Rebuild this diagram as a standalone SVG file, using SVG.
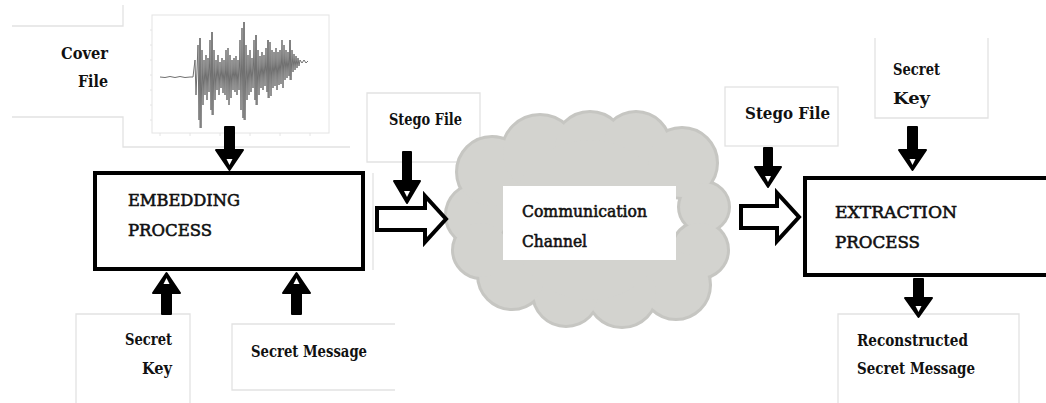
<svg xmlns="http://www.w3.org/2000/svg" width="1046" height="403" viewBox="0 0 1046 403">
<style>
.bg{fill:#ffffff}
.frame{fill:none;stroke:#e2e2e2;stroke-width:1.3}
.lb{font-family:'DejaVu Serif Condensed','DejaVu Serif',serif;font-weight:bold;font-size:17px;fill:#111}
.pr{font-family:'DejaVu Serif Condensed','DejaVu Serif',serif;font-weight:normal;font-size:17px;fill:#111;stroke:#111;stroke-width:0.55}
.box{fill:#ffffff;stroke:#000;stroke-width:4}
.solid{fill:#000;stroke:#000;stroke-width:2;stroke-linejoin:round}
.hole{fill:#ffffff}
.hollow{fill:#ffffff;stroke:#000;stroke-width:4;stroke-linejoin:miter}
.cloudEdge{fill:#c6c6c2;stroke:#c6c6c2;stroke-width:6}
.cloudFill{fill:#d3d3cf}
.wave{fill:none;stroke:#707070;stroke-width:1;stroke-linejoin:round}
.axis{fill:none;stroke:#e4e4e4;stroke-width:1}
</style>
<rect class="bg" x="0" y="0" width="1046" height="403"/>

<g id="cover-file">
  <path class="frame" d="M12,26 H123 V5 M12,117 H123 V147 H350"/>
  <text class="lb" x="61" y="59" textLength="47" lengthAdjust="spacingAndGlyphs">Cover</text>
  <text class="lb" x="78" y="87" textLength="30" lengthAdjust="spacingAndGlyphs">File</text>
  <g id="waveform">
    <rect class="axis" x="152" y="15" width="177" height="118"/>
    <path class="axis" d="M160,133 v3 M190,133 v3 M220,133 v3 M250,133 v3 M280,133 v3 M310,133 v3 M152,30 h-2 M152,45 h-2 M152,60 h-2 M152,75 h-2 M152,90 h-2 M152,105 h-2 M152,120 h-2"/>
    <polyline class="wave" points="160,77 165,77.5 170,76.5 175,77.5 180,76.5 185,77.5 190,77 193,77 195,60 196,95 198,45 199,120 200,38 201,128 202,50 203,105 204,60 205,95 206,55 207,100 208,58 209,92 210,40 211,110 212,32 213,115 214,50 215,100 216,60 217,90 218,55 219,95 220,62 221,88 222,58 223,93 224,60 225,95 226,50 227,100 228,48 229,105 230,55 231,98 232,60 233,90 234,58 235,92 236,56 237,95 238,60 239,90 240,40 241,110 242,28 243,118 244,22 245,120 246,45 247,100 248,55 249,95 250,50 251,92 252,58 253,88 254,40 255,100 256,35 257,105 258,50 259,95 260,56 261,88 262,52 263,90 264,55 265,86 266,48 267,92 268,40 269,98 270,42 271,96 272,50 273,88 274,52 275,86 276,48 277,90 278,52 279,85 280,50 281,84 282,40 283,88 284,45 285,80 286,50 287,78 288,52 289,76 290,40 291,80 292,50 293,72 294,54 295,70 296,56 297,68 298,58 299,66 300,60 302,63 304,60 306,63 308,61"/>
    <path class="wave" d="M200,38 V128 M212,32 V115 M244,22 V120 M256,35 V105 M268,40 V98 M290,40 V80" stroke-width="1.6"/>
  </g>
</g>

<g id="embedding-process">
  <rect class="box" x="95" y="173" width="268" height="96"/>
  <text class="pr" x="128" y="206" textLength="112" lengthAdjust="spacingAndGlyphs">EMBEDDING</text>
  <text class="pr" x="128" y="236" textLength="84" lengthAdjust="spacingAndGlyphs">PROCESS</text>
</g>

<g id="secret-key-left">
  <path class="frame" d="M76,403 V314 H190 V403"/>
  <text class="lb" x="125" y="345" textLength="47" lengthAdjust="spacingAndGlyphs">Secret</text>
  <text class="lb" x="142" y="374" textLength="30" lengthAdjust="spacingAndGlyphs">Key</text>
</g>

<g id="secret-message-left">
  <path class="frame" d="M395,324 H232 V390 H395"/>
  <text class="lb" x="251" y="357" textLength="116" lengthAdjust="spacingAndGlyphs">Secret Message</text>
</g>

<g id="stego-file-left">
  <path class="frame" d="M367,93 H480 V162 H367 Z M373,173 V270"/>
  <text class="lb" x="389" y="125" textLength="73" lengthAdjust="spacingAndGlyphs">Stego File</text>
</g>

<g id="communication-channel">
  <g class="cloudEdge">
    <circle cx="477" cy="215" r="30"/>
    <circle cx="492" cy="172" r="34"/>
    <circle cx="540" cy="153" r="37"/>
    <circle cx="590" cy="148" r="35"/>
    <circle cx="636" cy="146" r="33"/>
    <circle cx="682" cy="163" r="34"/>
    <circle cx="704" cy="207" r="24"/>
    <circle cx="700" cy="250" r="27"/>
    <circle cx="676" cy="285" r="33"/>
    <circle cx="622" cy="292" r="34"/>
    <circle cx="566" cy="293" r="32"/>
    <circle cx="512" cy="275" r="33"/>
    <circle cx="481" cy="250" r="27"/>
    <circle cx="590" cy="220" r="80"/>
  </g>
  <g class="cloudFill">
    <circle cx="477" cy="215" r="30"/>
    <circle cx="492" cy="172" r="34"/>
    <circle cx="540" cy="153" r="37"/>
    <circle cx="590" cy="148" r="35"/>
    <circle cx="636" cy="146" r="33"/>
    <circle cx="682" cy="163" r="34"/>
    <circle cx="704" cy="207" r="24"/>
    <circle cx="700" cy="250" r="27"/>
    <circle cx="676" cy="285" r="33"/>
    <circle cx="622" cy="292" r="34"/>
    <circle cx="566" cy="293" r="32"/>
    <circle cx="512" cy="275" r="33"/>
    <circle cx="481" cy="250" r="27"/>
    <circle cx="590" cy="220" r="80"/>
  </g>
  <rect x="503" y="186" width="173" height="74" fill="#ffffff"/>
  <text class="pr" x="522" y="217" textLength="125" lengthAdjust="spacingAndGlyphs">Communication</text>
  <text class="pr" x="522" y="247" textLength="65" lengthAdjust="spacingAndGlyphs">Channel</text>
</g>

<g id="stego-file-right">
  <rect class="frame" x="725" y="87" width="113" height="59"/>
  <text class="lb" x="745" y="119" textLength="85" lengthAdjust="spacingAndGlyphs">Stego File</text>
</g>

<g id="secret-key-right">
  <path class="frame" d="M875,38 V118 H988 V38"/>
  <text class="lb" x="893" y="75" textLength="47" lengthAdjust="spacingAndGlyphs">Secret</text>
  <text class="lb" x="893" y="104" textLength="37" lengthAdjust="spacingAndGlyphs">Key</text>
</g>

<g id="extraction-process">
  <rect class="box" x="805" y="178" width="260" height="97"/>
  <text class="pr" x="835" y="218" textLength="122" lengthAdjust="spacingAndGlyphs">EXTRACTION</text>
  <text class="pr" x="835" y="248" textLength="85" lengthAdjust="spacingAndGlyphs">PROCESS</text>
</g>

<g id="reconstructed-secret-message">
  <path class="frame" d="M838,403 V314 H1019 V403"/>
  <text class="lb" x="857" y="346" textLength="111" lengthAdjust="spacingAndGlyphs">Reconstructed</text>
  <text class="lb" x="857" y="374" textLength="118" lengthAdjust="spacingAndGlyphs">Secret Message</text>
</g>

<g id="connectors">
  <path class="solid" d="M225,127 H234 V150 H243 L229.5,170 L216,150 H225 Z"/>
  <path class="hole" d="M226.5,159 H232.5 L229.5,165 Z"/>
  <path class="solid" d="M162,314 H171 V293 H180 L166.5,273 L153,293 H162 Z"/>
  <path class="hole" d="M163.5,284 H169.5 L166.5,278 Z"/>
  <path class="solid" d="M292,314 H301 V293 H310 L296.5,273 L283,293 H292 Z"/>
  <path class="hole" d="M293.5,284 H299.5 L296.5,278 Z"/>
  <path class="solid" d="M403,152 H411 V181 H420 L407,203 L394,181 H403 Z"/>
  <path class="hole" d="M404,191 H410 L407,197 Z"/>
  <path class="hollow" d="M377,208 H425 V196 L446,219 L425,242 V230 H377 Z"/>
  <path class="solid" d="M764,148 H772 V167 H781 L768,187 L755,167 H764 Z"/>
  <path class="hole" d="M765,176 H771 L768,182 Z"/>
  <path class="hollow" d="M741,206 H777 V193 L799,217 L777,241 V228 H741 Z"/>
  <path class="solid" d="M908,127 H917 V150 H926 L912.5,170 L899,150 H908 Z"/>
  <path class="hole" d="M909.5,159 H915.5 L912.5,165 Z"/>
  <path class="solid" d="M914,279 H923 V298 H932 L918.5,317 L905,298 H914 Z"/>
  <path class="hole" d="M915.5,306 H921.5 L918.5,312 Z"/>
</g>
</svg>
